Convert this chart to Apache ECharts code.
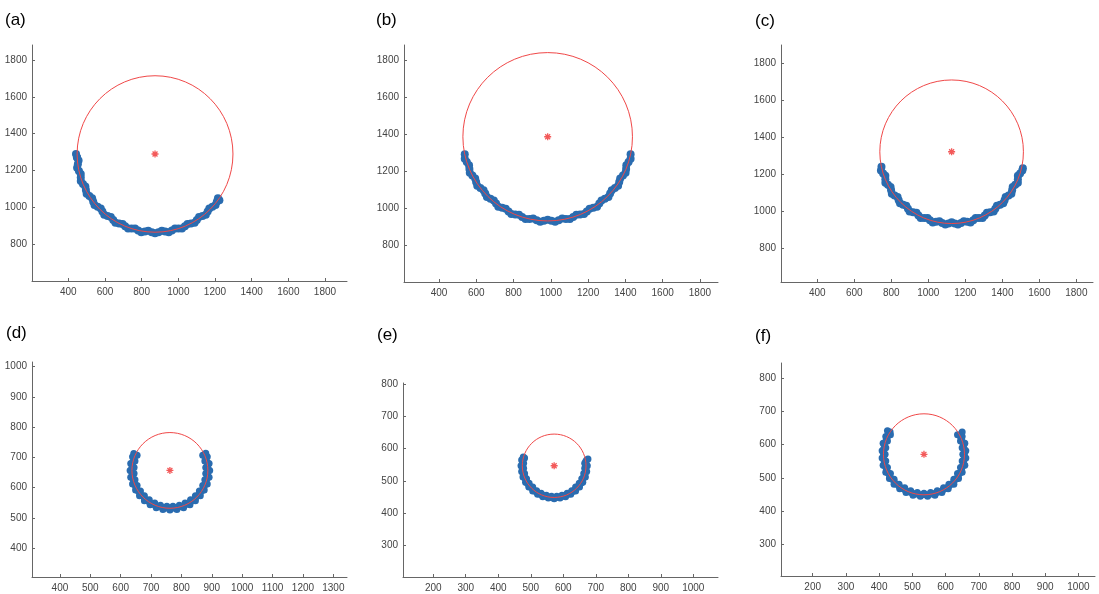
<!DOCTYPE html>
<html><head><meta charset="utf-8">
<script src="https://cdn.jsdelivr.net/npm/echarts@6/dist/echarts.min.js"></script>
<style>html,body{margin:0;padding:0;background:#fff}#c{width:1099px;height:594px}</style>
</head><body><div id="c"></div>
<script>
// ---------- data ----------
const panelLabels = ['(a)', '(b)', '(c)', '(d)', '(e)', '(f)'];

const pointsA = [[447,1272],[442,1290],[456,1254],[448,1215],[468,1181],[468,1143],[493,1113],[500,1074],[530,1049],[543,1013],[577,994],[596,960],[632,947],[657,917],[696,910],[726,885],[764,885],[798,865],[836,873],[873,859],[910,873],[948,865],[982,885],[1020,885],[1050,910],[1089,917],[1113,947],[1150,960],[1169,994],[1203,1013],[1216,1049],[1224,1038],
  [448,1271],[452,1234],[458,1198],[468,1162],[480,1127],[496,1094],[515,1062],[536,1031],[560,1003],[586,977],[614,953],[645,932],[677,913],[710,897],[745,885],[781,875],[818,869],[855,865],[892,865],[928,869],[965,875],[1001,885],[1036,897],[1069,913],[1101,932],[1132,953],[1160,977],[1186,1003],[1210,1031]];
const pointsB = [[538,1290],[538,1266],[561,1231],[565,1190],[594,1160],[605,1120],[639,1096],[657,1059],[694,1041],[718,1007],[758,996],[788,967],[829,963],[864,940],[905,943],[943,926],[983,936],[1023,926],[1061,943],[1102,940],[1137,963],[1178,967],[1208,996],[1248,1007],[1272,1041],[1309,1059],[1327,1096],[1361,1120],[1372,1160],[1401,1190],[1405,1231],[1428,1266],[1428,1290],
  [549,1248],[563,1211],[579,1175],[599,1141],[622,1108],[648,1078],[676,1050],[706,1024],[739,1001],[773,981],[809,965],[846,951],[885,941],[924,934],[963,931],[1003,931],[1042,934],[1081,941],[1120,951],[1157,965],[1193,981],[1228,1001],[1260,1024],[1290,1050],[1318,1078],[1344,1108],[1367,1141],[1387,1175],[1404,1211],[1417,1248]];
const pointsC = [[747,1241],[744,1220],[768,1192],[768,1155],[796,1132],[803,1095],[834,1077],[847,1043],[881,1030],[899,999],[936,992],[959,964],[996,964],[1024,940],[1060,947],[1092,929],[1126,941],[1160,929],[1192,947],[1228,940],[1256,964],[1293,964],[1317,992],[1353,999],[1371,1030],[1405,1043],[1418,1077],[1449,1095],[1456,1132],[1484,1155],[1484,1192],[1508,1220],[1511,1233],
  [756,1205],[768,1174],[782,1143],[799,1114],[818,1086],[840,1060],[864,1036],[890,1014],[918,995],[947,978],[978,964],[1009,952],[1042,943],[1075,937],[1109,934],[1143,934],[1177,937],[1210,943],[1243,952],[1274,964],[1305,978],[1334,995],[1362,1014],[1388,1036],[1412,1060],[1434,1086],[1453,1114],[1470,1143],[1484,1174],[1496,1205]];
const pointsD = [[643,713],[654,707],[639,702],[647,688],[633,680],[644,667],[631,657],[644,647],[633,634],[647,626],[639,612],[654,607],[649,592],[665,589],[662,573],[678,573],[678,557],[694,560],[697,544],[712,549],[717,534],[731,542],[739,528],[752,539],[762,526],[772,539],[785,528],[793,542],[807,534],[812,549],[828,544],[830,560],[846,557],[846,573],[862,573],[859,589],[875,592],[870,607],[885,612],[877,626],[891,634],[880,647],[893,657],[880,667],[891,680],[877,688],[885,702],[870,707],[880,714],
  [647,705],[643,695],[640,684],[638,673],[637,663],[637,651],[638,641],[640,630],[643,619],[647,609],[651,599],[657,590],[663,581],[670,573],[678,565],[686,558],[695,552],[704,546],[714,542],[724,538],[735,535],[746,533],[757,532],[768,532],[778,533],[789,535],[800,538],[810,542],[820,546],[829,552],[838,558],[846,565],[854,573],[861,581],[867,590],[873,599],[877,609],[881,619],[884,630],[886,641],[887,651],[887,663],[886,673],[884,684],[881,695],[877,705]];
const pointsE = [[477,574],[481,571],[472,565],[478,555],[470,547],[478,539],[472,529],[481,523],[476,512],[487,507],[484,496],[495,493],[494,481],[506,481],[506,469],[518,470],[521,459],[532,462],[537,451],[548,456],[554,447],[564,453],[572,445],[580,453],[590,447],[596,456],[607,451],[612,462],[623,459],[626,470],[638,469],[638,481],[650,481],[649,493],[660,496],[657,507],[668,512],[663,523],[672,529],[666,539],[674,547],[666,555],[672,565],[676,568],
  [476,568],[475,560],[474,551],[474,543],[475,534],[476,526],[479,518],[482,510],[485,502],[489,494],[494,487],[500,481],[506,475],[512,469],[519,464],[527,460],[535,456],[543,454],[551,451],[559,450],[568,449],[576,449],[585,450],[593,451],[601,454],[609,456],[617,460],[625,464],[632,469],[638,475],[644,481],[650,487],[655,494],[659,502],[662,510],[665,518],[668,526],[669,534],[670,543],[670,551],[669,560]];
const pointsF = [[425,642],[433,638],[434,630],[420,625],[425,611],[412,604],[420,591],[409,582],[418,571],[409,560],[420,551],[412,538],[425,531],[420,517],[434,513],[431,498],[445,496],[445,481],[460,481],[462,467],[477,470],[481,456],[495,461],[502,448],[515,456],[524,445],[535,454],[546,445],[555,456],[568,448],[575,461],[589,456],[594,470],[608,467],[610,481],[625,481],[625,496],[639,498],[636,513],[650,517],[645,531],[658,538],[650,551],[661,560],[652,571],[661,582],[650,591],[658,604],[645,611],[650,625],[636,630],[650,638],
  [427,627],[422,618],[419,608],[416,597],[414,587],[413,576],[413,566],[414,555],[416,545],[419,534],[422,524],[427,515],[432,505],[438,497],[445,489],[453,481],[461,474],[470,468],[479,463],[488,458],[498,455],[509,452],[519,450],[530,449],[540,449],[551,450],[561,452],[572,455],[582,458],[591,463],[600,468],[609,474],[617,481],[625,489],[632,497],[638,505],[643,515],[648,524],[651,534],[654,545],[656,555],[657,566],[657,576],[656,587],[654,597],[651,608],[648,618],[643,627]];

// fitted circle centres and radii
const centers = [[873,1290],[983,1385],[1126,1322],[762,657],[572,547],[535,571]];
const radii = [425, 455, 388, 125, 98, 122];

// axis extents
const xExtents = [[202,1920],[212,1897],[204,1890],[308,1345],[107,1076],[104.5,1050]];
const yExtents = [[600,1882],[600,1881],[618,1899],[305,1015],[203,803],[204.5,846]];
const xSplits = [8, 8, 8, 10, 10, 10];
const ySplits = [7, 7, 7, 8, 6, 7];

const pointSets = [pointsA, pointsB, pointsC, pointsD, pointsE, pointsF];

// ---------- layout ----------
const grids = [
  {left: 32, top: 45, width: 315, height: 236},
  {left: 404, top: 45, width: 314, height: 237},
  {left: 781, top: 45, width: 312, height: 237},
  {left: 32, top: 362, width: 315, height: 215},
  {left: 403, top: 383, width: 315, height: 194},
  {left: 781, top: 363, width: 314, height: 213}
];
const labelPos = [[5,12],[376,12],[755,13],[6,325],[377,327],[755,328]];
const markerSizes = [8, 8, 8, 7, 7, 7];

const FONT = 'Liberation Sans, Arial, Helvetica, sans-serif';
const axisCol = '#666';
function axisCommon(ext, split, gi, isX) {
  return {
    type: 'value', gridIndex: gi, min: ext[0], max: ext[1], splitNumber: split,
    axisLine: {show: true, onZero: false, lineStyle: {color: axisCol, width: 1}},
    axisTick: {show: true, inside: true, length: 3, lineStyle: {color: axisCol}},
    axisLabel: {showMinLabel: false, showMaxLabel: false, color: '#444', fontSize: 10,
      fontFamily: FONT, margin: isX ? 6 : 5, formatter: v => String(v)},
    splitLine: {show: false}
  };
}

const starPath = 'path://M5,0L5,10M0,5L10,5M1.5,1.5L8.5,8.5M1.5,8.5L8.5,1.5';

const series = [];
pointSets.forEach((pts, i) => {
  series.push({
    type: 'scatter', xAxisIndex: i, yAxisIndex: i, data: pts, symbolSize: markerSizes[i],
    itemStyle: {color: '#2a6cb0', opacity: 1, borderWidth: 0}, z: 2, silent: true,
    emphasis: {disabled: true}
  });
  series.push({
    type: 'custom', xAxisIndex: i, yAxisIndex: i, z: 3, silent: true,
    data: [[centers[i][0], centers[i][1], radii[i]]],
    encode: {x: 0, y: 1},
    renderItem: function (params, api) {
      const c = api.coord([api.value(0), api.value(1)]);
      const s = api.size([api.value(2), api.value(2)]);
      return {type: 'ellipse', shape: {cx: c[0], cy: c[1], rx: s[0], ry: s[1]},
        style: {fill: 'none', stroke: '#f04848', lineWidth: 1}};
    }
  });
  series.push({
    type: 'scatter', xAxisIndex: i, yAxisIndex: i, data: [centers[i]],
    symbol: starPath, symbolSize: 7, z: 4, silent: true,
    itemStyle: {color: 'rgba(0,0,0,0)', borderColor: '#f03030', borderWidth: 1.3}
  });
});

const chart = echarts.init(document.getElementById('c'), null, {renderer: 'canvas'});
chart.setOption({
  animation: false,
  backgroundColor: '#fff',
  title: panelLabels.map((t, i) => ({text: t, left: labelPos[i][0], top: labelPos[i][1], padding: 0,
    textStyle: {fontSize: 17, fontWeight: 'normal', color: '#000', fontFamily: FONT}})),
  grid: grids,
  xAxis: xExtents.map((e, i) => axisCommon(e, xSplits[i], i, true)),
  yAxis: yExtents.map((e, i) => axisCommon(e, ySplits[i], i, false)),
  series: series
});
</script>
</body></html>
